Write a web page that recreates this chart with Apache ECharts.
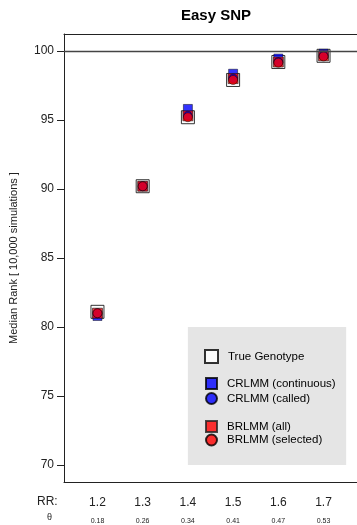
<!DOCTYPE html>
<html><head><meta charset="utf-8">
<script src="https://cdn.jsdelivr.net/npm/echarts@6/dist/echarts.min.js"></script>
<style>html,body{margin:0;padding:0;background:#fff}#c{width:357px;height:525px}</style>
</head><body><div id="c"></div>
<script>
var rr = [1.2, 1.3, 1.4, 1.5, 1.6, 1.7];
var theta = ['0.18', '0.26', '0.34', '0.41', '0.47', '0.53'];
var yTicks = [70, 75, 80, 85, 90, 95, 100];
var trueGenotype = [81.1, 90.2, 95.2, 97.9, 99.2, 99.65];
var crlmmContinuous = [80.8, 90.2, 95.8, 98.35, 99.45, 99.8];
var crlmmCalled = [81.0, 90.2, 95.3, 98.0, 99.2, 99.65];
var brlmmAll = [81.0, 90.2, 95.3, 98.0, 99.2, 99.65];
var brlmmSelected = [81.0, 90.2, 95.2, 97.9, 99.15, 99.6];

function pairs(v){ return rr.map(function(x,i){ return [x, v[i]]; }); }
var FONT = 'Liberation Sans, Arial, sans-serif';
var legendText = {fontFamily:FONT, fontSize:11.5, color:'#000', padding:[0,0,0,5]};
var chart = echarts.init(document.getElementById('c'), null, {renderer:'canvas'});
chart.setOption({
  animation:false,
  backgroundColor:'#fff',
  title:{text:'Easy SNP', left:211, top:3, textAlign:'center',
    textStyle:{fontFamily:FONT, fontSize:15, fontWeight:'bold', color:'#000'}},
  grid:{left:62, top:34, width:298, height:448, show:false},
  xAxis:[{type:'value', min:1.126, max:1.774, position:'bottom',
    axisLine:{show:true, onZero:false, lineStyle:{color:'#222'}}, axisTick:{show:false}, splitLine:{show:false},
    axisLabel:{customValues:rr, margin:13, fontFamily:FONT,
      formatter:function(v){ var i = rr.indexOf(Math.round(v*10)/10); return '{a|'+v.toFixed(1)+'}\n{b|'+theta[i]+'}'; },
      rich:{a:{fontSize:12, lineHeight:16, color:'#222', fontFamily:FONT}, b:{fontSize:7, lineHeight:20, color:'#222', fontFamily:FONT}}}},
    {type:'value', min:1.126, max:1.774, position:'top',
    axisLine:{show:true, onZero:false, lineStyle:{color:'#222'}}, axisTick:{show:false}, axisLabel:{show:false}, splitLine:{show:false}}],
  yAxis:{type:'value', min:68.77, max:101.23,
    name:'Median Rank [ 10,000 simulations ]', nameLocation:'middle', nameGap:45,
    nameTextStyle:{fontFamily:FONT, fontSize:11, color:'#222'},
    axisLine:{show:true, onZero:false, lineStyle:{color:'#222'}},
    axisTick:{show:true, customValues:yTicks, length:7, lineStyle:{color:'#222'}},
    axisLabel:{customValues:yTicks, margin:10, fontFamily:FONT, fontSize:12, color:'#222'},
    splitLine:{show:false}},
  legend:[
    {data:['True Genotype'], left:204, top:349, padding:0, orient:'vertical', itemWidth:13, itemHeight:13, itemGap:4,
      textStyle:legendText},
    {data:['CRLMM (continuous)','CRLMM (called)'], left:205, top:377, padding:0, orient:'vertical', itemWidth:11, itemHeight:11, itemGap:2,
      textStyle:legendText},
    {data:['BRLMM (all)','BRLMM (selected)'], left:205, top:420, padding:0, orient:'vertical', itemWidth:11, itemHeight:11, itemGap:0.5,
      textStyle:legendText}
  ],
  graphic:[
    {type:'text', left:37, top:496, style:{text:'RR:', font:'12px '+FONT, fill:'#222'}},
    {type:'text', left:47, top:513, style:{text:'θ', font:'9px '+FONT, fill:'#222'}}
  ],
  series:[
    {type:'line', data:[], silent:true,
      markArea:{silent:true, itemStyle:{color:'#e5e5e5'}, data:[[{xAxis:1.4, yAxis:70},{xAxis:1.75, yAxis:80}]]},
      markLine:{silent:true, symbol:'none', label:{show:false}, lineStyle:{color:'#444', width:1.3, type:'solid'}, data:[{yAxis:100}]}},
    {name:'True Genotype', type:'scatter', symbol:'rect', symbolSize:13, data:pairs(trueGenotype),
      itemStyle:{color:'#fff', borderColor:'#000', borderWidth:1}},
    {name:'CRLMM (continuous)', type:'scatter', symbol:'rect', symbolSize:9, data:pairs(crlmmContinuous),
      itemStyle:{color:'#0000ff', borderColor:'#000', borderWidth:0.6}},
    {name:'BRLMM (all)', type:'scatter', symbol:'rect', symbolSize:10, data:pairs(brlmmAll),
      itemStyle:{color:'#ff0000', borderColor:'#222', borderWidth:0.8}},
    {name:'CRLMM (called)', type:'scatter', symbol:'circle', symbolSize:9, data:pairs(crlmmCalled),
      itemStyle:{color:'#0000ff', borderColor:'#000', borderWidth:0.6}},
    {name:'BRLMM (selected)', type:'scatter', symbol:'circle', symbolSize:9, data:pairs(brlmmSelected),
      itemStyle:{color:'#ff0000', borderColor:'#000', borderWidth:0.6}}
  ]
});
</script></body></html>
